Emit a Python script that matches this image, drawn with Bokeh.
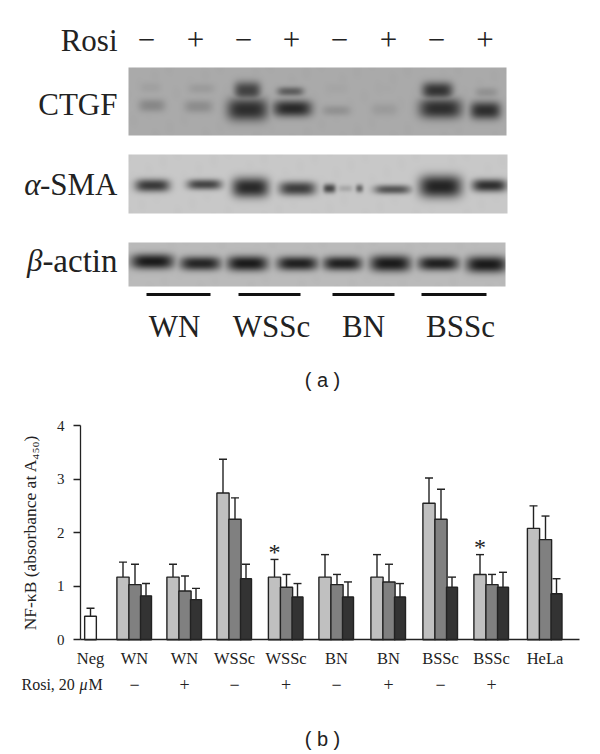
import numpy as np
from bokeh.plotting import figure
from bokeh.layouts import column
from bokeh.models import Range1d, FixedTicker, ColumnDataSource, Whisker, TeeHead, LinearColorMapper
from bokeh.core.properties import value
from bokeh.embed import file_html
from bokeh.resources import INLINE

SERIF = "Liberation Serif"
SANS = "Liberation Sans"
INK = "#222222"

# ---------- panel (b) data ----------
groups = ["Neg", "WN", "WN", "WSSc", "WSSc", "BN", "BN", "BSSc", "BSSc", "HeLa"]
rosi = ["", "\u2212", "+", "\u2212", "+", "\u2212", "+", "\u2212", "+", ""]
neg_value = [0.44]
neg_error_top = [0.59]
series_light = [1.17, 1.17, 2.74, 1.17, 1.17, 1.17, 2.55, 1.22, 2.08]
series_mid = [1.03, 0.91, 2.25, 0.98, 1.03, 1.08, 2.25, 1.03, 1.87]
series_dark = [0.82, 0.75, 1.14, 0.80, 0.80, 0.80, 0.98, 0.98, 0.86]
error_light = [1.45, 1.41, 3.37, 1.50, 1.59, 1.59, 3.02, 1.59, 2.50]
error_mid = [1.41, 1.19, 2.65, 1.22, 1.22, 1.41, 2.81, 1.22, 2.31]
error_dark = [1.05, 0.96, 1.41, 1.05, 1.08, 1.05, 1.17, 1.26, 1.14]
star_groups = [4, 8]
y_ticks = [0, 1, 2, 3, 4]

# ---------- panel (a) data: band strength read from the blot ----------
rosi_a = ["\u2212", "+", "\u2212", "+", "\u2212", "+", "\u2212", "+"]
cell_lines = ["WN", "WSSc", "BN", "BSSc"]
ctgf_lower = [135, 140, 45, 40, 145, 155, 45, 45]
ctgf_upper = [160, 155, 65, 90, 165, 168, 50, 145]
sma_band = [55, 65, 40, 60, 65, 80, 35, 45]
actin_band = [25, 35, 25, 30, 30, 25, 30, 25]

# ---------- layout (picture pixels) ----------
W, H_A, H_B = 600, 398, 356
center_px = [90, 134, 184, 234, 285.5, 336, 388, 440, 491, 544.5]
bar_w = [12.2, 12.2, 11]
bar_shift = [-11.5, 0.5, 11.5]
frame_l, frame_r, frame_t, frame_b = 80, 579, 425, 639.3

def Y(v):
    return -v

def blot(x0, x1, y0, y1, bg, bands):
    pad = 4
    xs = np.arange(x0 - pad, x1 + pad) + 0.5
    ys = np.arange(y0 - pad, y1 + pad) + 0.5
    xx, yy = np.meshgrid(xs, ys)
    img = bg + (np.sin(xx * 0.13 + yy * 0.21) + np.sin(xx * 0.37 - yy * 0.11)) * 1.2
    for cx, cy, hw, hh, level in bands:
        prof = np.exp(-np.abs((xx - cx) / (hw * 1.02)) ** 4) * np.exp(-np.abs((yy - cy) / (hh * 1.25)) ** 2.4)
        img = np.minimum(img, bg - (bg - level) * prof)
    kernel = np.array([1, 2, 3, 2, 1]) / 9
    img = np.apply_along_axis(lambda r: np.convolve(r, kernel, mode="same"), 0, img)
    img = np.apply_along_axis(lambda r: np.convolve(r, kernel, mode="same"), 1, img)
    return np.clip(img[pad:-pad, pad:-pad], 0, 255)[::-1]

mapper = LinearColorMapper(palette=["#%02x%02x%02x" % (i, i, i) for i in range(256)], low=0, high=255)

pa = figure(width=W, height=H_A, output_backend="svg", toolbar_location=None,
            x_range=Range1d(0, W), y_range=Range1d(Y(H_A), Y(0)),
            min_border=0, outline_line_color=None, x_axis_type=None, y_axis_type=None)
pa.xgrid.visible = False
pa.ygrid.visible = False

lane_ctgf = [151.5, 198, 247, 292, 336, 384, 440, 485]
lower_geom = [(105, 13, 5), (106, 14, 5), (109, 20, 9), (108, 19, 6.5),
              (110, 14, 4), (109, 13, 5), (108, 21, 8), (110, 15, 7)]
upper_geom = [(150, 87, 10, 4), (201, 88, 13, 4), (247, 90, 13, 7), (290, 91, 13, 3.5),
              (336, 88, 11, 4), (384, 88, 10, 4), (437, 90, 15, 6.5), (486, 92, 11, 4)]
bands_ctgf = []
for i in range(8):
    cy, hw, hh = lower_geom[i]
    bands_ctgf.append((lane_ctgf[i], cy, hw, hh, ctgf_lower[i]))
    ux, uy, uw, uh = upper_geom[i]
    bands_ctgf.append((ux, uy, uw, uh, ctgf_upper[i]))

sma_geom = [(152, 185, 17, 5), (204, 184, 17, 4), (250, 187, 18, 8), (297, 188, 18, 5.5),
            (329, 188, 6, 3.5), (392, 189, 18, 3.5), (440, 186, 21, 9), (489, 185, 17, 5)]
bands_sma = [(g[0], g[1], g[2], g[3], v) for g, v in zip(sma_geom, sma_band)]
bands_sma += [(345, 188, 7, 2.5, 165), (359, 188, 3.5, 3, 95)]

actin_geom = [(152, 261, 21, 6), (200, 263, 20, 5.5), (247, 263, 20, 6), (297, 263, 20, 5.5),
              (342, 263, 19, 5.5), (390, 263, 20, 6.5), (438, 263, 20, 5.5), (486, 264, 20, 6.5)]
bands_actin = [(g[0], g[1], g[2], g[3], v) for g, v in zip(actin_geom, actin_band)]

for (x0, x1, y0, y1, bg, bands) in [(128, 506, 67, 135, 170, bands_ctgf),
                                    (128, 507, 154, 213, 200, bands_sma),
                                    (128, 505, 242, 286, 186, bands_actin)]:
    pa.image(image=[blot(x0, x1, y0, y1, bg, bands)], x=x0, y=Y(y1), dw=x1 - x0, dh=y1 - y0,
             color_mapper=mapper, level="image")

def ta(x, y, s, size=31, align="left", style="normal", font=SERIF, base="alphabetic"):
    pa.text(x=[x], y=[Y(y)], text=[s], text_font=value(font), text_font_size=f"{size}px",
            text_font_style=style, text_align=align, text_baseline=base, text_color=INK)

ta(117, 40, "Rosi", align="right")
ta(117, 104, "CTGF", align="right")
ta(117, 184, "-SMA", align="right")
ta(40, 184, "\u03b1", align="right", style="italic")
ta(117, 260, "-actin", size=33, align="right")
ta(42, 260, "\u03b2", align="right", style="italic")
for xc, s in zip([146, 195, 243, 291, 339, 388, 436, 484.5], rosi_a):
    ta(xc, 39, s, align="center")
pa.segment(x0=[146, 238, 332, 421], y0=[Y(294)] * 4, x1=[210, 300, 394, 486], y1=[Y(294)] * 4,
           line_color="#111111", line_width=3)
for xc, s in zip([174, 271, 363, 460], cell_lines):
    ta(xc, 326, s, align="center")
ta(322, 379, "( a )", size=20, align="center", font=SANS, base="middle")

# ---------- panel (b) ----------
def unit_y(px):
    return (frame_b - px) * 4 / (frame_b - frame_t)

pb = figure(width=W, height=H_B, output_backend="svg", toolbar_location=None,
            x_range=Range1d(0, W), y_range=Range1d(unit_y(H_A + H_B), unit_y(H_A)),
            min_border=0, outline_line_color=None)
pb.xgrid.visible = False
pb.ygrid.visible = False

colours = ["#c0c0c0", "#808080", "#333333"]
all_vals = [series_light, series_mid, series_dark]
all_errs = [error_light, error_mid, error_dark]

def add_bars(xs, vals, errs, width, fill):
    src = ColumnDataSource(dict(x=xs, top=vals, err=errs, base=vals))
    whisk = Whisker(source=src, base="x", lower="base", upper="err", line_color=INK, line_width=1.4,
                    upper_head=TeeHead(size=8, line_color=INK, line_width=1.4),
                    lower_head=None)
    pb.add_layout(whisk)
    pb.vbar(x="x", top="top", bottom=0, width=width, source=src, fill_color=fill,
            line_color=INK, line_width=1.4)

add_bars([center_px[0]], neg_value, neg_error_top, 11.7, "#ffffff")
for s in range(3):
    xs = [c + bar_shift[s] for c in center_px[1:]]
    add_bars(xs, all_vals[s], all_errs[s], bar_w[s], colours[s])

yaxis = pb.yaxis[0]
yaxis.fixed_location = frame_l
yaxis.bounds = (0, 4)
yaxis.ticker = FixedTicker(ticks=y_ticks)
yaxis.minor_tick_line_color = None
yaxis.major_tick_in = 0
yaxis.major_tick_out = 7
yaxis.major_tick_line_color = INK
yaxis.major_tick_line_width = 1.3
yaxis.axis_line_color = INK
yaxis.axis_line_width = 1.3
yaxis.major_label_text_font = SERIF
yaxis.major_label_text_font_size = "15px"
yaxis.major_label_text_color = INK
yaxis.major_label_standoff = 9
yaxis.axis_label = "NF-\u03baB (absorbance at A\u2084\u2085\u2080)"
yaxis.axis_label_text_font = SERIF
yaxis.axis_label_text_font_size = "17.5px"
yaxis.axis_label_text_font_style = "normal"
yaxis.axis_label_text_color = INK
yaxis.axis_label_standoff = 14

xaxis = pb.xaxis[0]
xaxis.fixed_location = 0
xaxis.bounds = (frame_l, frame_r)
xaxis.ticker = FixedTicker(ticks=center_px)
xaxis.major_label_overrides = {c: g for c, g in zip(center_px, groups)}
xaxis.major_tick_in = 0
xaxis.major_tick_out = 0
xaxis.minor_tick_line_color = None
xaxis.axis_line_color = INK
xaxis.axis_line_width = 1.3
xaxis.major_label_text_font = SERIF
xaxis.major_label_text_font_size = "16.5px"
xaxis.major_label_text_color = INK
xaxis.major_label_standoff = 9

def lb(x, ypx, s, size=15, align="left", font=SERIF, style="normal", base="middle"):
    pb.text(x=[x], y=[unit_y(ypx)], text=[s], text_font=value(font), text_font_size=f"{size}px",
            text_font_style=style, text_align=align, text_baseline=base, text_color=INK)

lb(21, 684, "Rosi, 20", size=16)
lb(79, 684, "\u03bc", size=16, style="italic")
lb(88, 684, "M", size=16)
for c, s in zip(center_px, rosi):
    if s:
        lb(c, 684, s, size=18, align="center")
for g, ypx in zip(star_groups, [551, 546]):
    lb(center_px[g] + bar_shift[0], ypx, "*", size=24, align="center")
lb(322, 738, "( b )", size=20, align="center", font=SANS)

page = column(pa, pb, spacing=0)
open("out.html", "w").write(file_html(page, INLINE))
